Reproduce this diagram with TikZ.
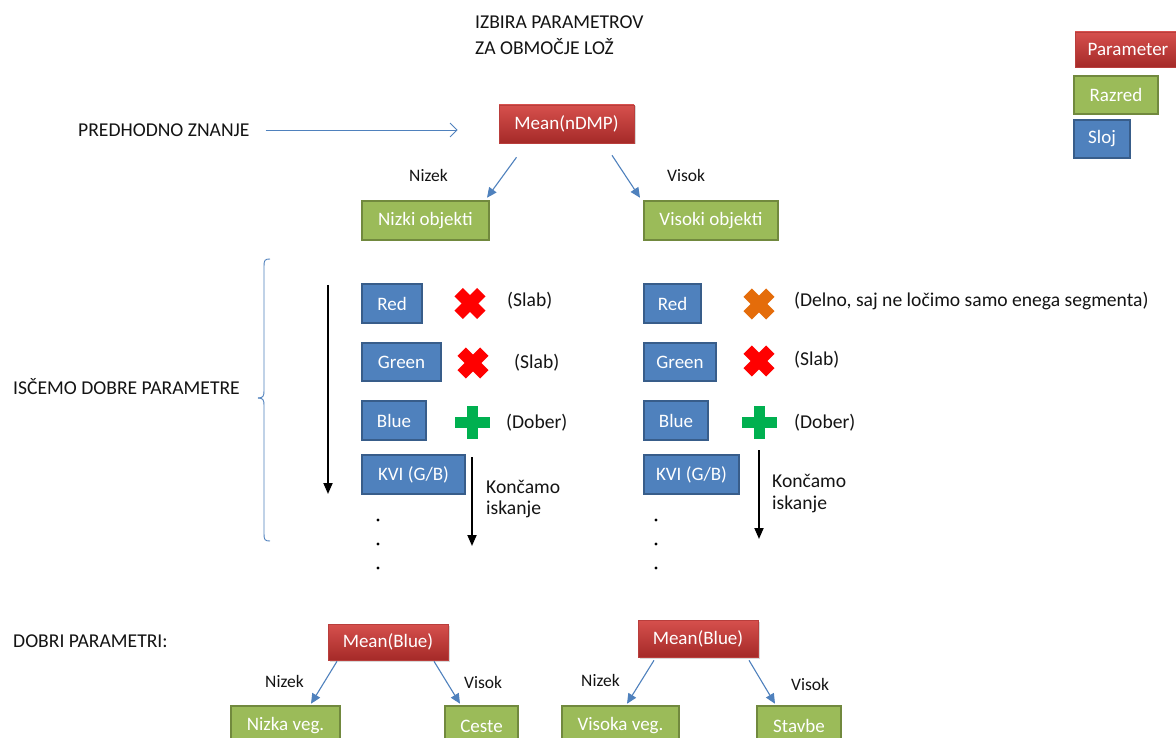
\documentclass[tikz,border=0pt]{standalone}
\usepackage{fontspec}
\setmainfont{Carlito}
\usetikzlibrary{arrows.meta,shadows,calc}
\definecolor{pblue}{RGB}{79,129,189}
\definecolor{pblueD}{RGB}{56,93,138}
\definecolor{pgreen}{RGB}{155,187,89}
\definecolor{pgreenD}{RGB}{113,137,62}
\definecolor{predT}{RGB}{214,80,77}
\definecolor{predB}{RGB}{165,42,40}
\definecolor{predD}{RGB}{185,62,60}
\definecolor{xred}{RGB}{255,0,0}
\definecolor{xorange}{RGB}{228,108,10}
\definecolor{xgreen}{RGB}{0,176,80}
\definecolor{txt}{RGB}{20,20,20}
\begin{document}
\begin{tikzpicture}[x=1pt,y=-1pt,
  box/.style={inner sep=0pt, text=white, font=\fontsize{19}{21}\selectfont},
  parambox/.style={box, top color=predT, bottom color=predB, draw=predD, line width=0.6pt,
    drop shadow={opacity=0.3, shadow xshift=1.5pt, shadow yshift=-1.5pt}},
  clsbox/.style={box, fill=pgreen, draw=pgreenD, line width=2.5pt},
  laybox/.style={box, fill=pblue, draw=pblueD, line width=2.5pt},
  lab/.style={inner sep=0pt, anchor=west, text=txt, font=\fontsize{19.6}{21}\selectfont},
  smlab/.style={inner sep=0pt, anchor=west, text=txt, font=\fontsize{17.5}{19}\selectfont},
  barrow/.style={draw=pblue, line width=1.1pt, -{Triangle[length=10pt,width=9pt]}},
  openarrow/.style={draw=pblue, line width=0.9pt, -{Straight Barb[length=7pt,width=14pt]}},
  karrow/.style={draw=black, line width=1.8pt, -{Triangle[length=11pt,width=9pt]}},
  xmark/.style={line width=12pt, line cap=butt},
]
\useasboundingbox (0,0) rectangle (1176,738);
\fill[white] (0,0) rectangle (1176,738);

% title
\node[lab] (t1) at (475,22) {IZBIRA PARAMETROV};
\node[lab] (t2) at (475,47) {ZA OBMOČJE LOŽ};

% legend
\node[parambox, minimum width=106pt, minimum height=35pt] (lp) at (1128,49.5) {Parameter};
\node[clsbox, minimum width=84pt, minimum height=38pt] (lc) at (1116,95) {Razred};
\node[laybox, minimum width=56pt, minimum height=38pt] (ll) at (1102,139) {Sloj};

% top tree
\node[lab] (pz) at (78,130) {PREDHODNO ZNANJE};
\node[parambox, minimum width=135pt, minimum height=38pt] (m1) at (566.5,124) {Mean(nDMP)};
\draw[openarrow] ([xshift=16pt]pz.east) -- ([xshift=-41pt]m1.west |- pz.east);
\node[clsbox, minimum width=127pt, minimum height=39pt] (n1) at (425.5,220.5) {Nizki objekti};
\node[clsbox, minimum width=134pt, minimum height=39pt] (v1) at (711,220.5) {Visoki objekti};
\draw[barrow] ([xshift=-50pt,yshift=-14pt]m1.south) -- ([xshift=61.5pt,yshift=2pt]n1.north);
\draw[barrow] ([xshift=45.5pt,yshift=-12pt]m1.south) -- ([xshift=-71pt,yshift=2pt]v1.north);
\node[smlab] (lz1) at (409,175) {Nizek};
\node[smlab] (lv1) at (667,175) {Visok};

% bracket
\node[lab] (isc) at (13,387) {ISČEMO DOBRE PARAMETRE};
\draw[pblue, line width=0.9pt]
  (270,259) .. controls (265,259) and (264,260) .. (264,266) -- (264,391)
  .. controls (264,396) and (263,398) .. (258,398);
\draw[pblue, line width=0.9pt]
  (258,398) .. controls (263,398) and (264,400) .. (264,405) -- (264,534)
  .. controls (264,540) and (265,541) .. (270,541);
\coordinate (sa) at (328,285);
\coordinate (sb) at (328,494);
\draw[karrow] (sa) -- (sb);

% left column
\node[laybox, minimum width=60pt, minimum height=39pt] (lr) at (392,303.5) {Red};
\node[laybox, minimum width=79pt, minimum height=38pt] (lg) at (401.5,362) {Green};
\node[laybox, minimum width=64pt, minimum height=39pt] (lb) at (394,420.5) {Blue};
\node[laybox, minimum width=103pt, minimum height=39pt] (lk) at (413.5,474.5) {KVI (G/B)};
\begin{scope}[shift={(470,303.5)}]
  \draw[xmark, xred] (-11.3,-11.3) -- (11.3,11.3);
  \draw[xmark, xred] (-11.3,11.3) -- (11.3,-11.3);
\end{scope}
\begin{scope}[shift={(473,363)}]
  \draw[xmark, xred] (-11.3,-11.3) -- (11.3,11.3);
  \draw[xmark, xred] (-11.3,11.3) -- (11.3,-11.3);
\end{scope}
\begin{scope}[shift={(472,422)}]
  \fill[xgreen] (-17.5,-5.5) rectangle (17.5,5.5);
  \fill[xgreen] (-5.5,-16.5) rectangle (5.5,16.5);
\end{scope}
\node[lab] (ls1) at (507,301) {(Slab)};
\node[lab] (ls2) at (514,363) {(Slab)};
\node[lab] (ld1) at (506,423) {(Dober)};
\coordinate (ka) at (472,457);
\coordinate (kb) at (472,546);
\draw[karrow] (ka) -- (kb);
\node[lab] (k1a) at (486,487) {Končamo};
\node[lab] (k1b) at (486,509) {iskanje};
\foreach \yy [count=\i] in {520,544,568} {
  \fill[black] (378,\yy) circle (1.6pt) coordinate (ldot\i);
}

% right column
\node[laybox, minimum width=57pt, minimum height=39pt] (rr) at (672.5,303.5) {Red};
\node[laybox, minimum width=72pt, minimum height=38pt] (rg) at (680,362) {Green};
\node[laybox, minimum width=64pt, minimum height=39pt] (rb) at (676,420.5) {Blue};
\node[laybox, minimum width=95pt, minimum height=39pt] (rk) at (691.5,474.5) {KVI (G/B)};
\begin{scope}[shift={(759,304)}]
  \draw[xmark, xorange] (-11.3,-11.3) -- (11.3,11.3);
  \draw[xmark, xorange] (-11.3,11.3) -- (11.3,-11.3);
\end{scope}
\begin{scope}[shift={(759,361)}]
  \draw[xmark, xred] (-11.3,-11.3) -- (11.3,11.3);
  \draw[xmark, xred] (-11.3,11.3) -- (11.3,-11.3);
\end{scope}
\begin{scope}[shift={(759,422)}]
  \fill[xgreen] (-17.5,-5.5) rectangle (17.5,5.5);
  \fill[xgreen] (-5.5,-16.5) rectangle (5.5,16.5);
\end{scope}
\node[lab] (rdel) at (794,301) {(Delno, saj ne ločimo samo enega segmenta)};
\node[lab] (rs2) at (794,360) {(Slab)};
\node[lab] (rd1) at (794,423) {(Dober)};
\coordinate (kc) at (759,450);
\coordinate (kd) at (759,539);
\draw[karrow] (kc) -- (kd);
\node[lab] (k2a) at (772,481) {Končamo};
\node[lab] (k2b) at (772,504) {iskanje};
\foreach \yy [count=\i] in {520,544,568} {
  \fill[black] (656,\yy) circle (1.6pt) coordinate (rdot\i);
}

% bottom
\node[lab] (dp) at (13,641) {DOBRI PARAMETRI:};
\node[parambox, minimum width=120pt, minimum height=36pt] (mb1) at (388,642) {Mean(Blue)};
\node[clsbox, minimum width=109pt, minimum height=40pt] (nv) at (285.5,726) {Nizka veg.};
\node[clsbox, minimum width=73pt, minimum height=40pt] (ce) at (481.5,726) {Ceste};
\draw[barrow] ([xshift=-51pt,yshift=-1pt]mb1.south) -- ([xshift=25.5pt,yshift=1pt]nv.north);
\draw[barrow] ([xshift=46pt,yshift=-1pt]mb1.south) -- ([xshift=-21.5pt,yshift=1pt]ce.north);
\node[smlab] (lz2) at (265,681) {Nizek};
\node[smlab] (lv2) at (464,682) {Visok};

\node[parambox, minimum width=120pt, minimum height=37pt] (mb2) at (698,638.5) {Mean(Blue)};
\node[clsbox, minimum width=117pt, minimum height=40pt] (vv) at (620.5,726) {Visoka veg.};
\node[clsbox, minimum width=84pt, minimum height=40pt] (st) at (799,726) {Stavbe};
\draw[barrow] ([xshift=-44pt,yshift=-3pt]mb2.south) -- ([xshift=6.5pt,yshift=1pt]vv.north);
\draw[barrow] ([xshift=51pt,yshift=-3pt]mb2.south) -- ([xshift=-24pt,yshift=1pt]st.north);
\node[smlab] (lz3) at (581,680) {Nizek};
\node[smlab] (lv3) at (791,684) {Visok};
\end{tikzpicture}
\end{document}
